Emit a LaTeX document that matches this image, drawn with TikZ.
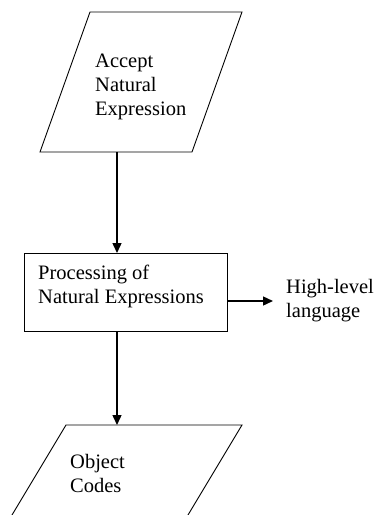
\documentclass[tikz,border=0pt]{standalone}
\usepackage{fontspec}
\setmainfont{Liberation Serif}
\usetikzlibrary{arrows.meta}

\begin{document}
\begin{tikzpicture}[x=1pt,y=-1pt]

        \useasboundingbox (0,0) rectangle (375,515);

        % the two slanted in/out shapes
        \begin{scope}[line width=.9pt]
          \draw (90,12) -- (242,12) -- (192,152) -- (40,152) -- cycle;
          \draw (66,425) -- (242,425) -- (158,565) -- (-18,565) -- cycle;
          \coordinate (acc) at (117,152);
          \coordinate (obj) at (117,425);
        \end{scope}

        \begin{scope}[every node/.style={draw, line width=.9pt, inner sep=0pt, outer sep=0pt}]
          \node (proc) [rectangle, minimum width=203pt, minimum height=78pt] at (125.5,292) {};
        \end{scope}

        \begin{scope}[every node/.style={align=left, inner sep=0pt, font=\fontsize{20.5}{24}\selectfont}]
          \node (l1) [anchor=base west] at (95,115)  {Accept\\Natural\\Expression};
          \node (l2) [anchor=base west] at (38,303) {Processing of\\Natural Expressions};
          \node (l3) [anchor=base west] at (70,492) {Object\\Codes};
          \node (hl) [anchor=west, inner xsep=13pt] at (273,301) {High-level\\language};
        \end{scope}

        \begin{scope}[every edge/.style={draw, line width=1.4pt, -{Triangle[length=10pt,width=9pt]}}]
          \path (acc) edge (acc |- proc.north);
          \path (acc |- proc.south) edge (obj);
          \path (proc.east |- hl.west) edge (hl.west);
        \end{scope}

      \end{tikzpicture}
\end{document}
